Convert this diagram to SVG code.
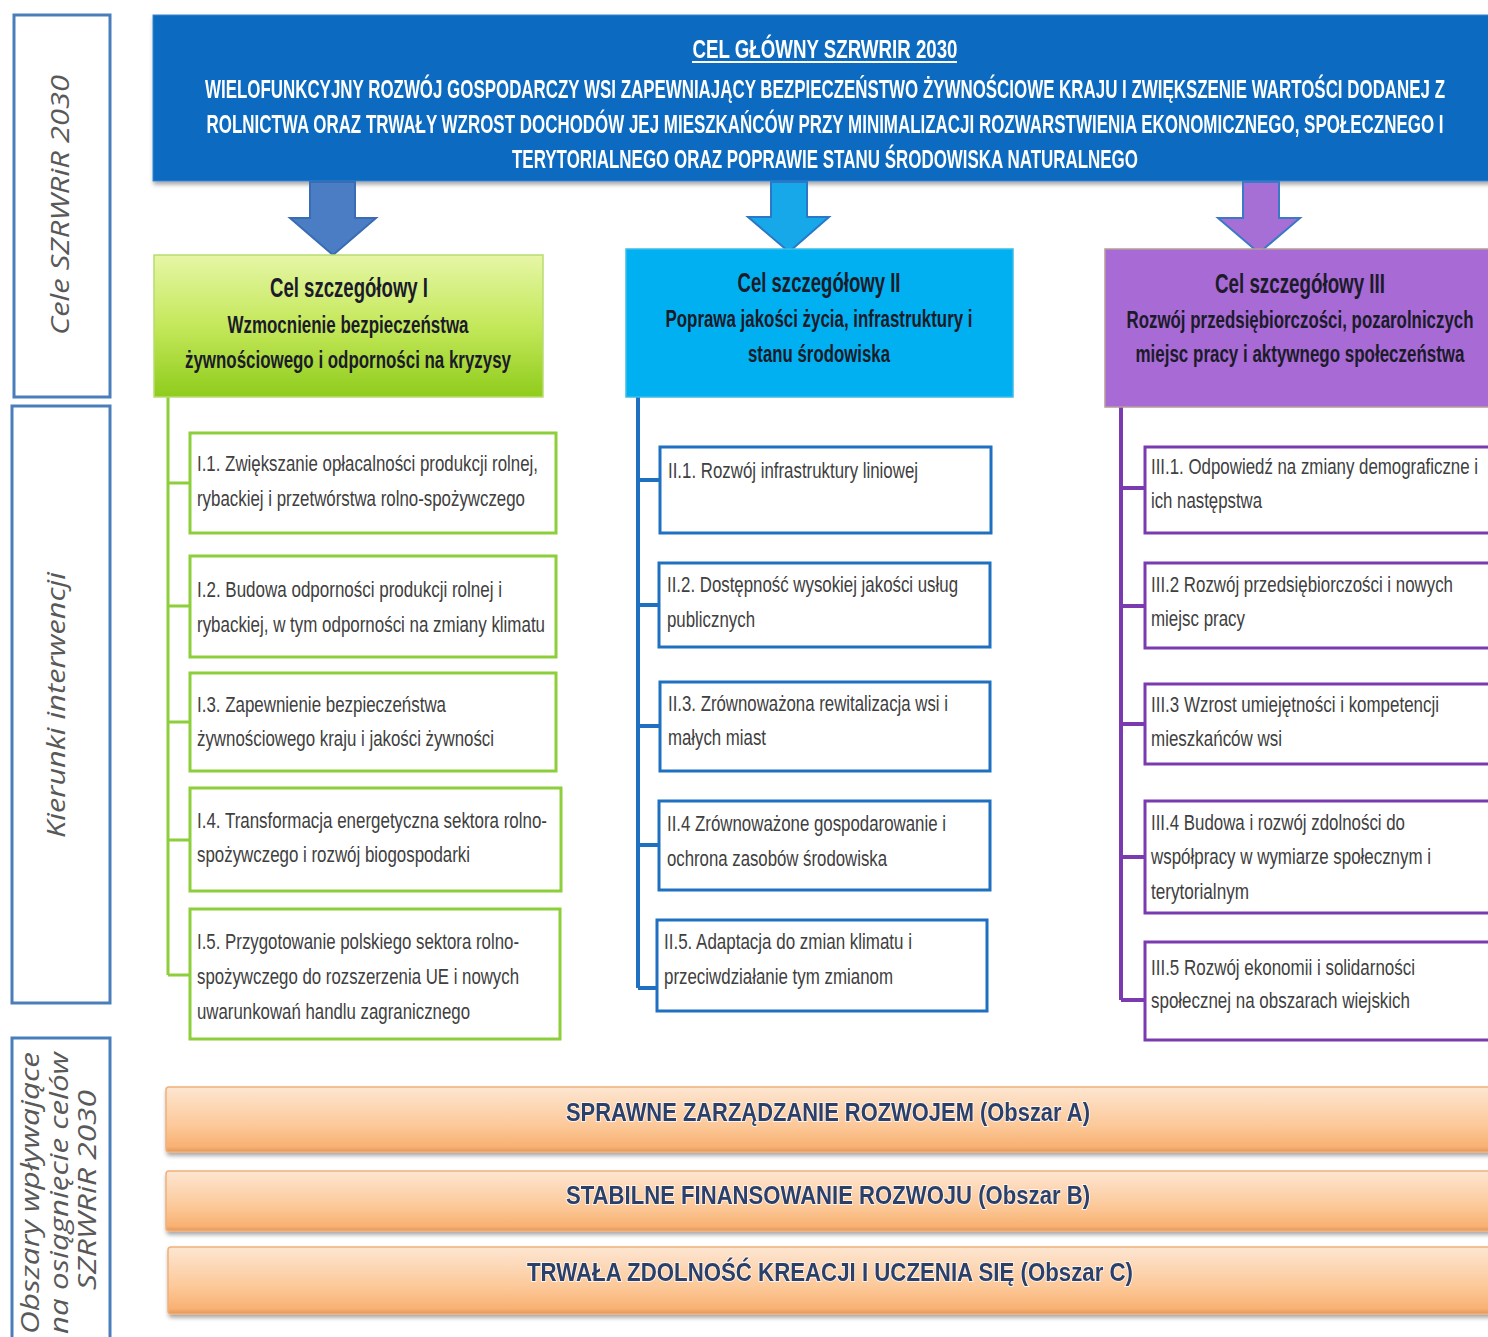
<svg xmlns="http://www.w3.org/2000/svg" width="1488" height="1337" viewBox="0 0 1488 1337">
<defs>
<linearGradient id="gGreen" x1="0" y1="0" x2="0" y2="1"><stop offset="0" stop-color="#e6f6a6"/><stop offset="0.5" stop-color="#c4e85a"/><stop offset="1" stop-color="#8fcc1c"/></linearGradient>
<linearGradient id="gOrange" x1="0" y1="0" x2="0" y2="1"><stop offset="0" stop-color="#fde6d2"/><stop offset="0.6" stop-color="#fcc898"/><stop offset="0.92" stop-color="#f8b172"/><stop offset="1" stop-color="#e2975a"/></linearGradient>
<filter id="sh" x="-5%" y="-10%" width="110%" height="130%"><feDropShadow dx="1" dy="3" stdDeviation="2" flood-color="#000" flood-opacity="0.35"/></filter>
<style>
.side{fill:#fff;stroke:#4a7ebb;stroke-width:3}
.sidet{font-family:"Open Sans","Liberation Sans",sans-serif;font-style:italic;font-size:25px;fill:#595959;text-anchor:middle}
.ban{font-family:"Liberation Sans Narrow","Liberation Sans",sans-serif;font-weight:bold;fill:#fff;text-anchor:middle;font-size:25px}
.hd{font-family:"Liberation Sans Narrow","Liberation Sans",sans-serif;font-weight:bold;fill:#1b1b2a;text-anchor:middle}
.ch{font-family:"Liberation Sans Narrow","Liberation Sans",sans-serif;fill:#404040;font-size:22px}
.bgn{fill:#fff;stroke:#8ccf3a;stroke-width:3}
.bbl{fill:#fff;stroke:#1f70c1;stroke-width:3}
.bpu{fill:#fff;stroke:#7a3bb0;stroke-width:3}
.bar{fill:url(#gOrange);stroke:#f0b07a;stroke-width:1.5}
.bart{font-family:"Liberation Sans Narrow","Liberation Sans",sans-serif;font-weight:bold;font-size:26px;fill:#2a3f6b;text-anchor:middle;stroke:#fff3e6;stroke-width:2;paint-order:stroke}
</style>
</defs>
<rect width="1488" height="1337" fill="#fff"/>

<g id="side-cele"><rect class="side" x="14" y="15" width="96" height="382"/><text class="sidet" transform="translate(69,205) rotate(-90)" textLength="260" lengthAdjust="spacingAndGlyphs">Cele SZRWRiR 2030</text></g>
<g id="side-kierunki"><rect class="side" x="12" y="406" width="98" height="597"/><text class="sidet" transform="translate(65,705) rotate(-90)" textLength="266" lengthAdjust="spacingAndGlyphs">Kierunki interwencji</text></g>
<g id="side-obszary"><rect class="side" x="12" y="1038" width="98" height="310"/><text class="sidet" transform="translate(39,1193) rotate(-90)" textLength="282" lengthAdjust="spacingAndGlyphs">Obszary wpływające</text><text class="sidet" transform="translate(68,1193) rotate(-90)" textLength="282" lengthAdjust="spacingAndGlyphs">na osiągnięcie celów</text><text class="sidet" transform="translate(96,1190) rotate(-90)" textLength="200" lengthAdjust="spacingAndGlyphs">SZRWRiR 2030</text></g>

<g id="main-goal" filter="url(#sh)">
<rect x="153" y="15" width="1340" height="166" fill="#0b6bc1" stroke="#3d86cf" stroke-width="1"/>
<text class="ban" x="825" y="58" font-size="28" textLength="265" lengthAdjust="spacingAndGlyphs">CEL GŁÓWNY SZRWRIR 2030</text>
<line x1="692" y1="62" x2="957" y2="62" stroke="#fff" stroke-width="2"/>
<text class="ban" x="825" y="98" textLength="1240" lengthAdjust="spacingAndGlyphs">WIELOFUNKCYJNY ROZWÓJ GOSPODARCZY WSI ZAPEWNIAJĄCY BEZPIECZEŃSTWO ŻYWNOŚCIOWE KRAJU I ZWIĘKSZENIE WARTOŚCI DODANEJ Z</text>
<text class="ban" x="825" y="133" textLength="1237" lengthAdjust="spacingAndGlyphs">ROLNICTWA ORAZ TRWAŁY WZROST DOCHODÓW JEJ MIESZKAŃCÓW PRZY MINIMALIZACJI ROZWARSTWIENIA EKONOMICZNEGO, SPOŁECZNEGO I</text>
<text class="ban" x="825" y="168" textLength="626" lengthAdjust="spacingAndGlyphs">TERYTORIALNEGO ORAZ POPRAWIE STANU ŚRODOWISKA NATURALNEGO</text>
</g>

<g id="connectors">
<polygon points="310,182 355,182 355,218 376,218 333,255 290,218 310,218" fill="#4a7dc4" stroke="#3a6cb4" stroke-width="2"/>
<polygon points="771,182 807,182 807,217 829,217 789,252 748,217 771,217" fill="#16a8e8" stroke="#2a78c6" stroke-width="2"/>
<polygon points="1243,182 1279,182 1279,218 1300,218 1259,253 1218,218 1243,218" fill="#a56fd6" stroke="#3b78c6" stroke-width="2"/>
<g stroke="#8ccf3a" stroke-width="3" fill="none">
<path d="M168,397 V975"/><path d="M168,483 H190 M168,606 H190 M168,722 H190 M168,840 H190 M168,975 H190"/>
</g>
<g stroke="#1f70c1" stroke-width="4" fill="none">
<path d="M638,397 V988"/><path d="M638,480 H660 M638,605 H659 M638,726 H660 M638,845 H659 M638,988 H657"/>
</g>
<g stroke="#7a3bb0" stroke-width="4" fill="none">
<path d="M1121,407 V1000"/><path d="M1121,488 H1145 M1121,606 H1145 M1121,724 H1145 M1121,857 H1145 M1121,1000 H1145"/>
</g>
</g>

<g id="goal-1"><rect x="154" y="255" width="389" height="142" fill="url(#gGreen)" stroke="#b7dc72" stroke-width="1.5"/>
<text class="hd" x="349" y="297" font-size="27" textLength="158" lengthAdjust="spacingAndGlyphs">Cel szczegółowy I</text>
<text class="hd" x="348" y="333" font-size="23" textLength="241" lengthAdjust="spacingAndGlyphs">Wzmocnienie bezpieczeństwa</text>
<text class="hd" x="348" y="368" font-size="23" textLength="326" lengthAdjust="spacingAndGlyphs">żywnościowego i odporności na kryzysy</text></g>

<g id="goal-2"><rect x="626" y="249" width="387" height="148" fill="#00b0f0" stroke="#3bbde8" stroke-width="1.5"/>
<text class="hd" x="819" y="292" font-size="27" textLength="163" lengthAdjust="spacingAndGlyphs">Cel szczegółowy II</text>
<text class="hd" x="819" y="327" font-size="23" textLength="307" lengthAdjust="spacingAndGlyphs">Poprawa jakości życia, infrastruktury i</text>
<text class="hd" x="819" y="362" font-size="23" textLength="142" lengthAdjust="spacingAndGlyphs">stanu środowiska</text></g>

<g id="goal-3"><rect x="1105" y="249" width="390" height="158" fill="#a86ad5" stroke="#b79a9a" stroke-width="1.5"/>
<text class="hd" x="1300" y="293" font-size="27" textLength="170" lengthAdjust="spacingAndGlyphs">Cel szczegółowy III</text>
<text class="hd" x="1300" y="328" font-size="23" textLength="347" lengthAdjust="spacingAndGlyphs">Rozwój przedsiębiorczości, pozarolniczych</text>
<text class="hd" x="1300" y="362" font-size="23" textLength="329" lengthAdjust="spacingAndGlyphs">miejsc pracy i aktywnego społeczeństwa</text></g>

<g id="I1"><rect class="bgn" x="190" y="433" width="366" height="100"/><text class="ch" x="197" y="471" textLength="341" lengthAdjust="spacingAndGlyphs">I.1. Zwiększanie opłacalności produkcji rolnej,</text><text class="ch" x="197" y="506" textLength="328" lengthAdjust="spacingAndGlyphs">rybackiej i przetwórstwa rolno-spożywczego</text></g>
<g id="I2"><rect class="bgn" x="190" y="556" width="366" height="101"/><text class="ch" x="197" y="597" textLength="305" lengthAdjust="spacingAndGlyphs">I.2. Budowa odporności produkcji rolnej i</text><text class="ch" x="197" y="632" textLength="348" lengthAdjust="spacingAndGlyphs">rybackiej, w tym odporności na zmiany klimatu</text></g>
<g id="I3"><rect class="bgn" x="190" y="673" width="366" height="98"/><text class="ch" x="197" y="712" textLength="249" lengthAdjust="spacingAndGlyphs">I.3. Zapewnienie bezpieczeństwa</text><text class="ch" x="197" y="746" textLength="297" lengthAdjust="spacingAndGlyphs">żywnościowego kraju i jakości żywności</text></g>
<g id="I4"><rect class="bgn" x="190" y="788" width="371" height="103"/><text class="ch" x="197" y="828" textLength="350" lengthAdjust="spacingAndGlyphs">I.4. Transformacja energetyczna sektora rolno-</text><text class="ch" x="197" y="862" textLength="273" lengthAdjust="spacingAndGlyphs">spożywczego i rozwój biogospodarki</text></g>
<g id="I5"><rect class="bgn" x="190" y="909" width="370" height="130"/><text class="ch" x="197" y="949" textLength="322" lengthAdjust="spacingAndGlyphs">I.5. Przygotowanie polskiego sektora rolno-</text><text class="ch" x="197" y="984" textLength="322" lengthAdjust="spacingAndGlyphs">spożywczego do rozszerzenia UE i nowych</text><text class="ch" x="197" y="1019" textLength="273" lengthAdjust="spacingAndGlyphs">uwarunkowań handlu zagranicznego</text></g>

<g id="II1"><rect class="bbl" x="660" y="447" width="331" height="86"/><text class="ch" x="668" y="478" textLength="250" lengthAdjust="spacingAndGlyphs">II.1. Rozwój infrastruktury liniowej</text></g>
<g id="II2"><rect class="bbl" x="659" y="563" width="331" height="84"/><text class="ch" x="667" y="592" textLength="291" lengthAdjust="spacingAndGlyphs">II.2. Dostępność wysokiej jakości usług</text><text class="ch" x="667" y="627" textLength="88" lengthAdjust="spacingAndGlyphs">publicznych</text></g>
<g id="II3"><rect class="bbl" x="660" y="682" width="330" height="89"/><text class="ch" x="668" y="711" textLength="280" lengthAdjust="spacingAndGlyphs">II.3. Zrównoważona rewitalizacja wsi i</text><text class="ch" x="668" y="745" textLength="98" lengthAdjust="spacingAndGlyphs">małych miast</text></g>
<g id="II4"><rect class="bbl" x="659" y="801" width="331" height="89"/><text class="ch" x="667" y="831" textLength="279" lengthAdjust="spacingAndGlyphs">II.4 Zrównoważone gospodarowanie i</text><text class="ch" x="667" y="866" textLength="220" lengthAdjust="spacingAndGlyphs">ochrona zasobów środowiska</text></g>
<g id="II5"><rect class="bbl" x="657" y="920" width="330" height="91"/><text class="ch" x="664" y="949" textLength="248" lengthAdjust="spacingAndGlyphs">II.5. Adaptacja do zmian klimatu i</text><text class="ch" x="664" y="984" textLength="229" lengthAdjust="spacingAndGlyphs">przeciwdziałanie tym zmianom</text></g>

<g id="III1"><rect class="bpu" x="1145" y="447" width="350" height="86"/><text class="ch" x="1151" y="474" textLength="327" lengthAdjust="spacingAndGlyphs">III.1. Odpowiedź na zmiany demograficzne i</text><text class="ch" x="1151" y="508" textLength="111" lengthAdjust="spacingAndGlyphs">ich następstwa</text></g>
<g id="III2"><rect class="bpu" x="1145" y="563" width="350" height="85"/><text class="ch" x="1151" y="592" textLength="302" lengthAdjust="spacingAndGlyphs">III.2 Rozwój przedsiębiorczości i nowych</text><text class="ch" x="1151" y="626" textLength="94" lengthAdjust="spacingAndGlyphs">miejsc pracy</text></g>
<g id="III3"><rect class="bpu" x="1145" y="684" width="350" height="80"/><text class="ch" x="1151" y="712" textLength="288" lengthAdjust="spacingAndGlyphs">III.3 Wzrost umiejętności i kompetencji</text><text class="ch" x="1151" y="746" textLength="131" lengthAdjust="spacingAndGlyphs">mieszkańców wsi</text></g>
<g id="III4"><rect class="bpu" x="1145" y="801" width="350" height="112"/><text class="ch" x="1151" y="830" textLength="254" lengthAdjust="spacingAndGlyphs">III.4 Budowa i rozwój zdolności do</text><text class="ch" x="1151" y="864" textLength="280" lengthAdjust="spacingAndGlyphs">współpracy w wymiarze społecznym i</text><text class="ch" x="1151" y="899" textLength="98" lengthAdjust="spacingAndGlyphs">terytorialnym</text></g>
<g id="III5"><rect class="bpu" x="1145" y="942" width="350" height="98"/><text class="ch" x="1151" y="975" textLength="264" lengthAdjust="spacingAndGlyphs">III.5 Rozwój ekonomii i solidarności</text><text class="ch" x="1151" y="1008" textLength="259" lengthAdjust="spacingAndGlyphs">społecznej na obszarach wiejskich</text></g>

<g id="area-A" filter="url(#sh)"><rect class="bar" x="166" y="1087" width="1330" height="65" rx="3"/><text class="bart" x="828" y="1121" textLength="524" lengthAdjust="spacingAndGlyphs">SPRAWNE ZARZĄDZANIE ROZWOJEM (Obszar A)</text></g>
<g id="area-B" filter="url(#sh)"><rect class="bar" x="166" y="1171" width="1330" height="60" rx="3"/><text class="bart" x="828" y="1204" textLength="524" lengthAdjust="spacingAndGlyphs">STABILNE FINANSOWANIE ROZWOJU (Obszar B)</text></g>
<g id="area-C" filter="url(#sh)"><rect class="bar" x="168" y="1247" width="1328" height="67" rx="3"/><text class="bart" x="830" y="1281" textLength="606" lengthAdjust="spacingAndGlyphs">TRWAŁA ZDOLNOŚĆ KREACJI I UCZENIA SIĘ (Obszar C)</text></g>
</svg>
